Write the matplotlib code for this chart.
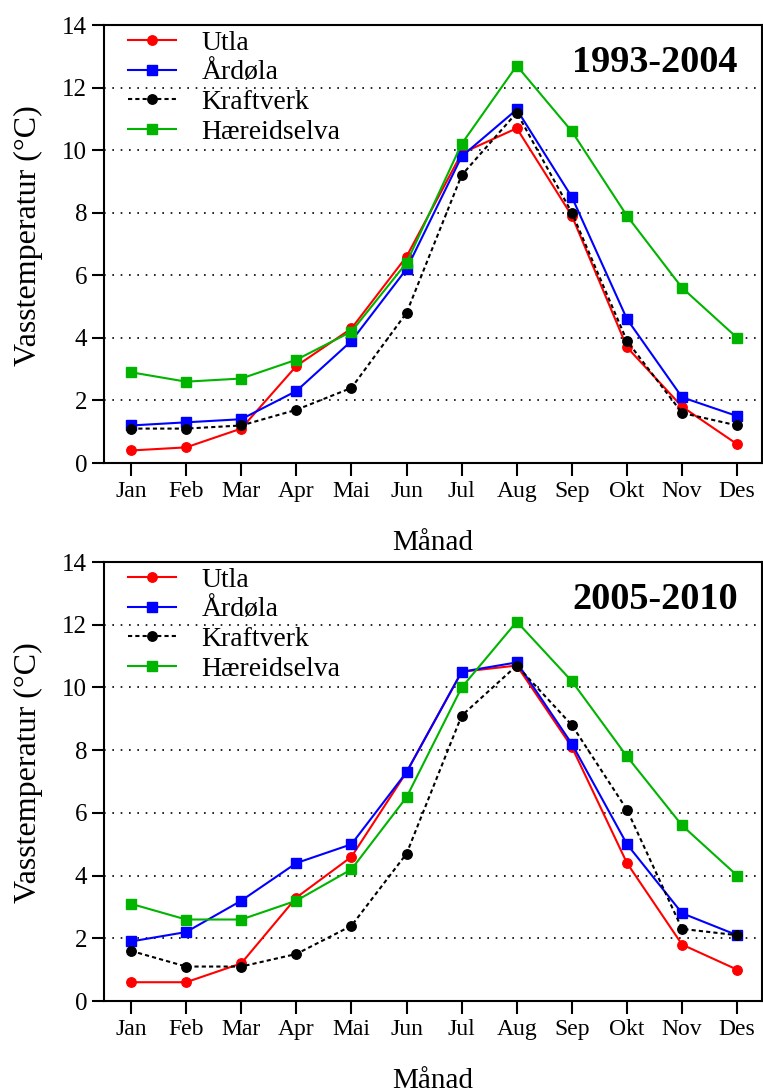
import matplotlib
matplotlib.use('Agg')
import matplotlib.pyplot as plt

plt.rcParams['font.family'] = ['Liberation Serif', 'DejaVu Serif']

months = ['Jan', 'Feb', 'Mar', 'Apr', 'Mai', 'Jun', 'Jul', 'Aug', 'Sep', 'Okt', 'Nov', 'Des']

# 1993-2004
utla_1 = [0.4, 0.5, 1.1, 3.1, 4.3, 6.6, 9.9, 10.7, 7.9, 3.7, 1.8, 0.6]
ardola_1 = [1.2, 1.3, 1.4, 2.3, 3.9, 6.2, 9.8, 11.3, 8.5, 4.6, 2.1, 1.5]
kraft_1 = [1.1, 1.1, 1.2, 1.7, 2.4, 4.8, 9.2, 11.2, 8.0, 3.9, 1.6, 1.2]
haer_1 = [2.9, 2.6, 2.7, 3.3, 4.2, 6.4, 10.2, 12.7, 10.6, 7.9, 5.6, 4.0]

# 2005-2010
utla_2 = [0.6, 0.6, 1.2, 3.3, 4.6, 7.3, 10.5, 10.7, 8.1, 4.4, 1.8, 1.0]
ardola_2 = [1.9, 2.2, 3.2, 4.4, 5.0, 7.3, 10.5, 10.8, 8.2, 5.0, 2.8, 2.1]
kraft_2 = [1.6, 1.1, 1.1, 1.5, 2.4, 4.7, 9.1, 10.7, 8.8, 6.1, 2.3, 2.1]
haer_2 = [3.1, 2.6, 2.6, 3.2, 4.2, 6.5, 10.0, 12.1, 10.2, 7.8, 5.6, 4.0]

periods = ['1993-2004', '2005-2010']
data = [(utla_1, ardola_1, kraft_1, haer_1), (utla_2, ardola_2, kraft_2, haer_2)]

fig = plt.figure(figsize=(7.63, 10.92), dpi=100)
axes = [fig.add_axes([0.1363, 0.576, 0.8624, 0.4011]),
        fig.add_axes([0.1363, 0.0833, 0.8624, 0.402])]

x = range(len(months))
green = '#00b400'
for ax, period, (u, a, k, h) in zip(axes, periods, data):
    ax.plot(x, u, '-o', color='#ff0000', lw=1.5, ms=6.8, label='Utla')
    ax.plot(x, a, '-s', color='#0000ff', lw=1.5, ms=6.8, label='Årdøla')
    ax.plot(x, k, 'o', color='black', ls=(0, (2, 1.5)), lw=1.5, ms=6.8, label='Kraftverk')
    ax.plot(x, h, '-s', color=green, lw=1.5, ms=6.8, label='Hæreidselva')

    ax.set_xlim(-0.49, 11.45)
    ax.set_ylim(0, 14)
    ax.set_yticks(range(0, 15, 2))
    ax.set_xticks(list(x))
    ax.set_xticklabels(months)
    ax.tick_params(axis='x', direction='out', length=9, width=1.5, labelsize=17, pad=4)
    ax.tick_params(axis='y', direction='out', length=9, width=1.5, labelsize=18, pad=3)
    for s in ax.spines.values():
        s.set_linewidth(1.5)
    ax.yaxis.grid(True, color='black', ls=(0, (1, 4)), lw=1.2)
    ax.set_axisbelow(True)

    ax.set_ylabel('Vasstemperatur (°C)', fontsize=23)
    ax.yaxis.set_label_coords(-0.092, 0.52)
    ax.set_xlabel('Månad', fontsize=21, labelpad=20)

    ax.text(0.963, 0.955, period, transform=ax.transAxes, ha='right', va='top',
            fontsize=27.5, fontweight='bold')

    ax.legend(loc='upper left', bbox_to_anchor=(0.036, 0.988), frameon=False,
              fontsize=20, handlelength=1.75, handletextpad=0.9,
              labelspacing=0.15, borderpad=0.0, borderaxespad=0.0)

fig.savefig('out.png', dpi=100)
